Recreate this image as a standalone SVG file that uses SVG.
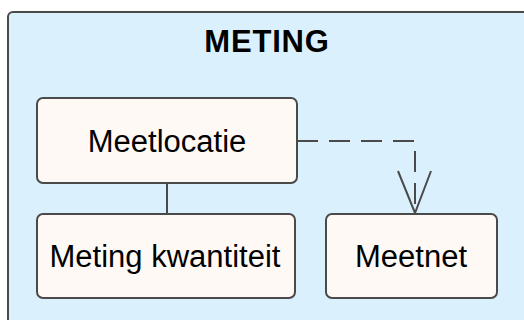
<svg xmlns="http://www.w3.org/2000/svg" width="524" height="320" viewBox="0 0 524 320">
  <defs>
    <style>
      .pkg { fill: #DAF1FD; stroke: #4a4a4a; stroke-width: 2; }
      .node { fill: #FFF9F6; stroke: #4a4a4a; stroke-width: 2; }
      .title { font-family: "Liberation Sans", Arial, sans-serif; font-weight: bold; font-size: 31px; fill: #000; text-anchor: middle; letter-spacing: 0.8px; }
      .label { font-family: "Liberation Sans", Arial, sans-serif; font-size: 31px; fill: #000; text-anchor: middle; }
      .line { fill: none; stroke: #4a4a4a; stroke-width: 2; }
      .dash { fill: none; stroke: #4a4a4a; stroke-width: 2; stroke-dasharray: 21 11; }
    </style>
    <marker id="openArrow" viewBox="0 0 34 44" refX="17" refY="43" markerWidth="34" markerHeight="44" markerUnits="userSpaceOnUse" orient="auto-start-reverse">
      <path d="M1 1 L17 43 L33 1" fill="none" stroke="#4a4a4a" stroke-width="2"/>
    </marker>
  </defs>
  <g id="package-meting">
    <rect class="pkg" x="8" y="12" width="524" height="320" rx="5" ry="5"/>
    <text class="title" x="267" y="52">METING</text>
  </g>
  <g id="connectors">
    <line class="line" x1="167" y1="183" x2="167" y2="214"/>
    <path class="dash" d="M297 141 L415 141 L415 213"/>
    <path d="M398 171 L415 213 L431 171" fill="none" stroke="#4a4a4a" stroke-width="2"/>
  </g>
  <g id="node-meetlocatie">
    <rect class="node" x="37" y="98" width="260" height="85" rx="6" ry="6"/>
    <text class="label" x="167" y="152">Meetlocatie</text>
  </g>
  <g id="node-meting-kwantiteit">
    <rect class="node" x="37" y="214" width="258" height="84" rx="6" ry="6"/>
    <text class="label" x="165" y="267">Meting kwantiteit</text>
  </g>
  <g id="node-meetnet">
    <rect class="node" x="326" y="214" width="171" height="84" rx="6" ry="6"/>
    <text class="label" x="411" y="267">Meetnet</text>
  </g>
</svg>
